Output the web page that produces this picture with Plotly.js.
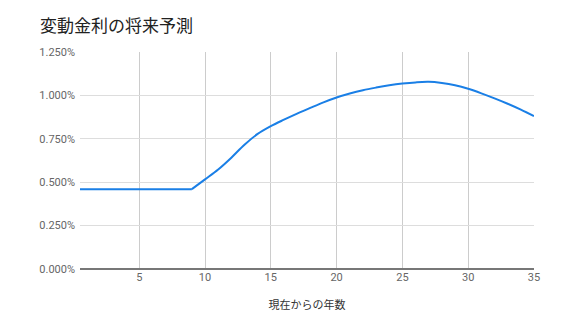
<!DOCTYPE html>
<html>
<head>
<meta charset="utf-8">
<script src="https://cdn.plot.ly/plotly-3.0.1.min.js"></script>
<style>html,body{margin:0;padding:0;background:#fff;}#chart{width:576px;height:330px;}</style>
</head>
<body>
<div id="chart"></div>
<script>
const chartTitle = "変動金利の将来予測";
const xAxisTitle = "現在からの年数";
const years = [0.5, 1, 2, 3, 4, 5, 6, 7, 8, 9, 10, 11, 12, 13, 14, 15, 16, 17, 18, 19, 20, 21, 22, 23, 24, 25, 26, 27, 28, 29, 30, 31, 32, 33, 34, 35];
const ratePct = [0.46, 0.46, 0.46, 0.46, 0.46, 0.46, 0.46, 0.46, 0.46, 0.46, 0.516, 0.573, 0.641, 0.716, 0.778, 0.823, 0.86, 0.895, 0.928, 0.96, 0.988, 1.011, 1.03, 1.045, 1.058, 1.068, 1.075, 1.078, 1.071, 1.058, 1.038, 1.012, 0.983, 0.952, 0.918, 0.881];
const xTicks = [5, 10, 15, 20, 25, 30, 35];
const yTicks = [0, 0.0025, 0.005, 0.0075, 0.01, 0.0125];

const rate = ratePct.map(v => v / 100);
const kink = years.indexOf(9);
const lineColor = '#1a7fe6';

const flatTrace = {
  x: years.slice(0, kink + 1),
  y: rate.slice(0, kink + 1),
  type: 'scatter', mode: 'lines',
  line: {color: lineColor, width: 2, shape: 'linear'},
  hoverinfo: 'skip'
};
const curveTrace = {
  x: years.slice(kink),
  y: rate.slice(kink),
  type: 'scatter', mode: 'lines',
  line: {color: lineColor, width: 2, shape: 'spline', smoothing: 1},
  hoverinfo: 'skip'
};

const layout = {
  width: 576,
  height: 330,
  margin: {l: 80, r: 42, t: 52, b: 61},
  paper_bgcolor: '#ffffff',
  plot_bgcolor: '#ffffff',
  font: {family: "Roboto, 'Noto Sans CJK JP', sans-serif", color: '#666666', size: 11},
  showlegend: false,
  title: {
    text: chartTitle,
    font: {family: "'Noto Sans CJK JP', sans-serif", size: 17, color: '#222222'},
    xref: 'container', yref: 'container',
    x: 40 / 576, xanchor: 'left',
    y: 1 - 26 / 330, yanchor: 'middle'
  },
  xaxis: {
    range: [0.5, 35],
    tickvals: xTicks,
    ticktext: xTicks.map(String),
    showgrid: true,
    gridcolor: '#cccccc',
    gridwidth: 1,
    zeroline: false,
    showline: false,
    ticks: '',
    tickfont: {size: 11, color: '#666666'},
    title: {text: xAxisTitle, font: {family: "'Noto Sans CJK JP', sans-serif", size: 11, color: '#333333'}, standoff: 18}
  },
  yaxis: {
    range: [0, 0.0125],
    tickvals: yTicks,
    tickformat: '.3%',
    showgrid: true,
    gridcolor: '#dddddd',
    gridwidth: 1,
    zeroline: true,
    zerolinecolor: '#777777',
    zerolinewidth: 1.5,
    showline: false,
    ticks: '',
    tickfont: {size: 11, color: '#666666'},
    ticklabelstandoff: 4
  }
};

Plotly.newPlot('chart', [flatTrace, curveTrace], layout, {displayModeBar: false, staticPlot: true});
</script>
</body>
</html>
